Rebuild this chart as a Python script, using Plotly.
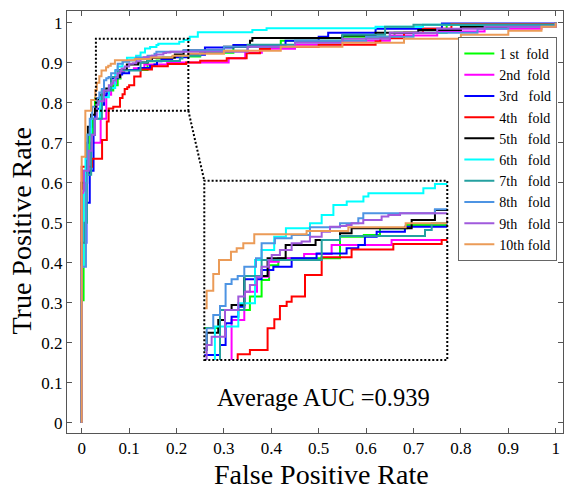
import plotly.graph_objects as go

# ---------------- data ----------------
fold_names = ["1 st\u00a0\u00a0fold", "2nd\u00a0\u00a0fold", "3rd\u00a0\u00a0\u00a0fold",
              "4th\u00a0\u00a0\u00a0fold", "5th\u00a0\u00a0\u00a0fold", "6th\u00a0\u00a0\u00a0fold",
              "7th\u00a0\u00a0\u00a0fold", "8th\u00a0\u00a0\u00a0fold", "9th\u00a0\u00a0\u00a0fold",
              "10th\u00a0fold"]

fpr1 = [0, 0, 0.004, 0.008, 0.015, 0.022, 0.028, 0.0426, 0.0666, 0.076, 0.082, 0.0894, 0.1389, 0.158, 0.171, 0.1924, 0.25, 0.32, 0.42, 0.55, 0.66, 0.77, 1.0]
tpr1 = [0, 0.306, 0.45, 0.62, 0.72, 0.76, 0.812, 0.8302, 0.8436, 0.8603, 0.875, 0.882, 0.9038, 0.9055, 0.9122, 0.9155, 0.925, 0.94, 0.955, 0.965, 0.975, 0.995, 1.0]

fpr2 = [0, 0, 0.003, 0.02, 0.04, 0.0519, 0.0621, 0.0723, 0.0817, 0.0897, 0.1101, 0.1322, 0.1803, 0.31, 0.345, 0.38, 0.45, 0.55, 0.65, 0.75, 0.85, 0.97, 1.0]
tpr2 = [0, 0.53, 0.63, 0.70, 0.76, 0.8201, 0.8486, 0.8636, 0.8787, 0.882, 0.8863, 0.8954, 0.9004, 0.911, 0.925, 0.935, 0.945, 0.955, 0.968, 0.978, 0.985, 0.99, 1.0]

fpr3 = [0, 0, 0.01, 0.017, 0.025, 0.028, 0.0426, 0.0471, 0.0519, 0.0573, 0.0621, 0.076, 0.0854, 0.1001, 0.1201, 0.1442, 0.1536, 0.1589, 0.1683, 0.191, 0.225, 0.26, 0.32, 0.43, 0.50, 0.52, 0.62, 0.76, 1.0]
tpr3 = [0, 0.45, 0.55, 0.63, 0.72, 0.785, 0.795, 0.8168, 0.8235, 0.8335, 0.861, 0.8703, 0.8737, 0.882, 0.887, 0.8921, 0.8954, 0.9038, 0.9088, 0.9138, 0.92, 0.938, 0.944, 0.955, 0.965, 0.975, 0.985, 0.998, 1.0]

fpr4 = [0, 0, 0.022, 0.043, 0.053, 0.0568, 0.0666, 0.0808, 0.0862, 0.0907, 0.0961, 0.1001, 0.1108, 0.1242, 0.1482, 0.1817, 0.2205, 0.25, 0.306, 0.348, 0.376, 0.397, 0.50, 0.62, 0.63, 0.68, 0.72, 0.78, 1.0]
tpr4 = [0, 0.64, 0.66, 0.707, 0.753, 0.7857, 0.79, 0.8118, 0.8208, 0.8342, 0.8385, 0.8436, 0.8653, 0.883, 0.891, 0.8964, 0.9004, 0.905, 0.911, 0.9235, 0.934, 0.94, 0.945, 0.953, 0.961, 0.975, 0.985, 0.997, 1.0]

fpr5 = [0, 0, 0.01, 0.013, 0.02, 0.028, 0.0319, 0.0412, 0.0466, 0.0519, 0.0621, 0.0808, 0.0953, 0.1193, 0.1389, 0.1482, 0.1964, 0.2151, 0.30, 0.355, 0.36, 0.55, 0.62, 0.71, 0.80, 0.90, 1.0]
tpr5 = [0, 0.60, 0.70, 0.74, 0.77, 0.79, 0.8074, 0.8201, 0.8302, 0.8352, 0.8643, 0.882, 0.8954, 0.9004, 0.9071, 0.9122, 0.9205, 0.9306, 0.94, 0.955, 0.962, 0.968, 0.975, 0.982, 0.99, 0.993, 1.0]

fpr6 = [0, 0, 0.004, 0.008, 0.012, 0.02, 0.0385, 0.0573, 0.0707, 0.076, 0.0861, 0.0955, 0.1148, 0.1242, 0.1336, 0.1443, 0.1577, 0.1617, 0.2058, 0.2151, 0.228, 0.245, 0.36, 0.39, 0.62, 0.72, 1.0]
tpr6 = [0, 0.39, 0.57, 0.66, 0.72, 0.76, 0.8135, 0.8369, 0.8804, 0.8904, 0.9038, 0.9122, 0.9172, 0.9255, 0.9356, 0.939, 0.944, 0.9473, 0.9523, 0.9567, 0.965, 0.976, 0.982, 0.986, 0.99, 0.995, 1.0]

fpr7 = [0, 0, 0.006, 0.011, 0.02, 0.026, 0.0426, 0.0621, 0.076, 0.1242, 0.1389, 0.2071, 0.2125, 0.25, 0.35, 0.45, 0.55, 0.64, 0.70, 1.0]
tpr7 = [0, 0.45, 0.50, 0.62, 0.72, 0.76, 0.8302, 0.8643, 0.8804, 0.9004, 0.9045, 0.9105, 0.9172, 0.93, 0.945, 0.955, 0.97, 0.99, 0.995, 1.0]

fpr8 = [0, 0, 0.009, 0.012, 0.017, 0.022, 0.0319, 0.0372, 0.0426, 0.0471, 0.0519, 0.0568, 0.0621, 0.0715, 0.076, 0.0867, 0.1001, 0.1148, 0.1389, 0.1536, 0.1576, 0.2151, 0.30, 0.45, 0.60, 0.70, 0.835, 0.90, 1.0]
tpr8 = [0, 0.39, 0.60, 0.72, 0.76, 0.79, 0.8118, 0.8252, 0.8342, 0.8563, 0.861, 0.8643, 0.8737, 0.882, 0.8971, 0.9021, 0.9055, 0.9132, 0.9172, 0.9222, 0.9272, 0.9312, 0.94, 0.955, 0.965, 0.975, 0.985, 0.99, 1.0]

fpr9 = [0, 0, 0.005, 0.015, 0.022, 0.028, 0.0319, 0.0359, 0.0466, 0.0573, 0.0626, 0.0666, 0.0719, 0.076, 0.0814, 0.0841, 0.0907, 0.1001, 0.1081, 0.1148, 0.1242, 0.1309, 0.1389, 0.1442, 0.1482, 0.1576, 0.1723, 0.1777, 0.1871, 0.35, 0.45, 0.55, 0.65, 0.75, 0.85, 1.0]
tpr9 = [0, 0.58, 0.63, 0.68, 0.72, 0.76, 0.795, 0.8034, 0.8302, 0.8436, 0.8486, 0.8553, 0.8636, 0.8737, 0.8804, 0.8854, 0.8904, 0.8971, 0.8988, 0.9038, 0.9088, 0.9138, 0.9145, 0.9155, 0.9172, 0.9205, 0.9239, 0.9255, 0.9272, 0.94, 0.95, 0.96, 0.975, 0.985, 0.99, 1.0]

fpr10 = [0, 0, 0.0077, 0.02, 0.0287, 0.0319, 0.0372, 0.0418, 0.0514, 0.056, 0.0613, 0.0701, 0.1121, 0.1456, 0.1916, 0.225, 0.30, 0.42, 0.55, 0.68, 0.80, 0.90, 0.97, 1.0]
tpr10 = [0, 0.665, 0.78, 0.807, 0.832, 0.8496, 0.8663, 0.8804, 0.8887, 0.8921, 0.8971, 0.9061, 0.9095, 0.9132, 0.9172, 0.9222, 0.93, 0.94, 0.95, 0.96, 0.97, 0.98, 0.99, 1.0]

fprs = [fpr1, fpr2, fpr3, fpr4, fpr5, fpr6, fpr7, fpr8, fpr9, fpr10]
tprs = [tpr1, tpr2, tpr3, tpr4, tpr5, tpr6, tpr7, tpr8, tpr9, tpr10]

tick_vals = [0, 0.1, 0.2, 0.3, 0.4, 0.5, 0.6, 0.7, 0.8, 0.9, 1]
tick_text = ["0", "0.1", "0.2", "0.3", "0.4", "0.5", "0.6", "0.7", "0.8", "0.9", "1"]
x_title = "False Positive Rate"
y_title = "True Positive Rate"
auc_text = "Average AUC =0.939"

# ---------------- style ----------------
colors = ["#00ff00", "#ff00ff", "#0000ff", "#ff0000", "#000000",
          "#00ffff", "#25a0a0", "#4d94e3", "#a05adc", "#eb9b57"]
FONT = "Liberation Serif, Times New Roman, serif"
AX = "#555555"

X_RANGE = [-0.031, 1.0154]
Y_RANGE = [-0.0258, 1.0292]
ZOOM_X = [0.03, 0.225]
ZOOM_Y = [0.78, 0.96]
INSET_DOM_X = [0.2768, 0.7667]
INSET_DOM_Y = [0.173, 0.598]

fig = go.Figure()
for i in range(10):
    fig.add_trace(go.Scatter(x=fprs[i], y=tprs[i], mode="lines", line_shape="hv",
                             line=dict(color=colors[i], width=2), name=fold_names[i],
                             xaxis="x", yaxis="y"))
for i in range(10):
    fig.add_trace(go.Scatter(x=fprs[i], y=tprs[i], mode="lines", line_shape="hv",
                             line=dict(color=colors[i], width=2), showlegend=False,
                             xaxis="x2", yaxis="y2"))

axis_common = dict(ticks="inside", ticklen=5, tickwidth=1, tickcolor=AX,
                   showline=True, linecolor=AX, linewidth=1, mirror="ticks",
                   showgrid=False, zeroline=False, automargin=False,
                   tickvals=tick_vals, ticktext=tick_text,
                   tickfont=dict(family=FONT, size=17, color="black"))

fig.update_layout(
    width=566, height=489,
    margin=dict(l=67, r=3, t=11, b=56),
    paper_bgcolor="white", plot_bgcolor="white",
    xaxis=dict(range=X_RANGE, domain=[0, 1], anchor="y", **axis_common),
    yaxis=dict(range=Y_RANGE, domain=[0, 1], anchor="x", **axis_common),
    xaxis2=dict(range=ZOOM_X, domain=INSET_DOM_X, anchor="y2", showticklabels=False,
                showgrid=False, zeroline=False, showline=False, ticks=""),
    yaxis2=dict(range=ZOOM_Y, domain=INSET_DOM_Y, anchor="x2", showticklabels=False,
                showgrid=False, zeroline=False, showline=False, ticks=""),
    legend=dict(x=0.789, y=0.9385, xanchor="left", yanchor="top",
                bgcolor="white", bordercolor="#666666", borderwidth=1,
                font=dict(family=FONT, size=14, color="black"),
                tracegroupgap=0),
    showlegend=True,
)

dot = dict(color="black", width=2, dash="2px,2px")
# zoom rectangle on the main axes
fig.add_shape(type="rect", xref="x", yref="y", x0=ZOOM_X[0], x1=ZOOM_X[1],
              y0=ZOOM_Y[0], y1=ZOOM_Y[1], line=dot)
# inset frame
fig.add_shape(type="rect", xref="paper", yref="paper", x0=INSET_DOM_X[0], x1=INSET_DOM_X[1],
              y0=INSET_DOM_Y[0], y1=INSET_DOM_Y[1], line=dot)
# connector from zoom rectangle corner to inset corner (inset corner expressed in main data units)
cx = X_RANGE[0] + INSET_DOM_X[0] * (X_RANGE[1] - X_RANGE[0])
cy = Y_RANGE[0] + INSET_DOM_Y[1] * (Y_RANGE[1] - Y_RANGE[0])
fig.add_shape(type="line", xref="x", yref="y", x0=ZOOM_X[1], y0=ZOOM_Y[0], x1=cx, y1=cy, line=dot)

# axis titles and the AUC note
fig.add_annotation(x=0.513, y=-0.098, xref="paper", yref="paper", text=x_title, showarrow=False,
                   xanchor="center", yanchor="middle",
                   font=dict(family=FONT, size=28, color="black"))
fig.add_annotation(x=-0.0917, y=0.4787, xref="paper", yref="paper", text=y_title, showarrow=False,
                   textangle=-90, xanchor="center", yanchor="middle",
                   font=dict(family=FONT, size=28, color="black"))
fig.add_annotation(x=0.511, y=0.064, xref="x", yref="y", text=auc_text, showarrow=False,
                   font=dict(family=FONT, size=24.5, color="black"))

fig.write_html("out.html", config={"displayModeBar": False},
               post_script="document.body.style.margin='0';document.body.style.padding='0';document.body.style.overflow='hidden';")
